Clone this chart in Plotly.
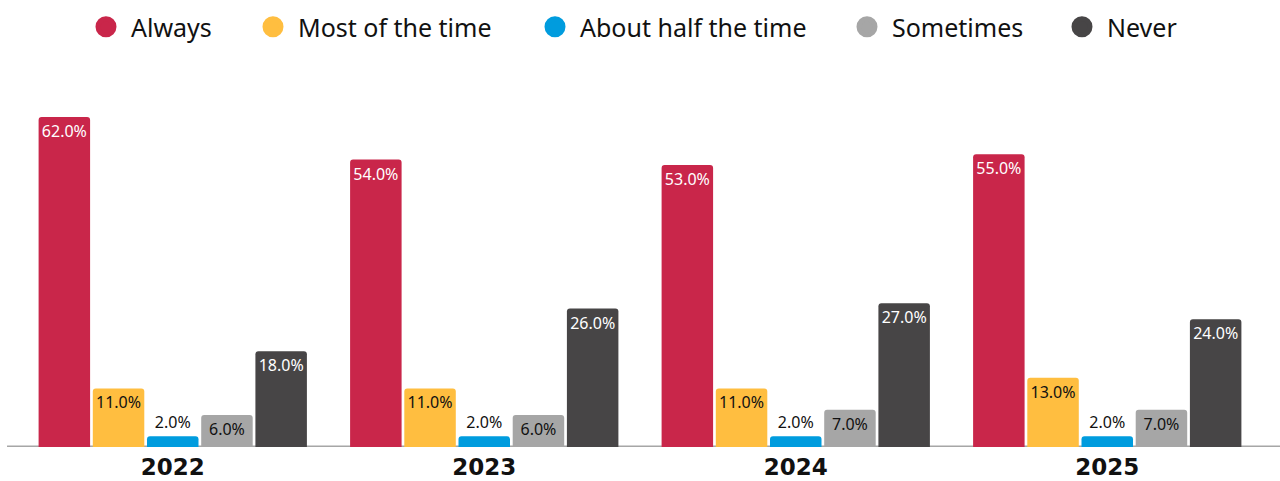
import plotly.graph_objects as go

years = ["2022", "2023", "2024", "2025"]
series = ["Always", "Most of the time", "About half the time", "Sometimes", "Never"]
always = [62.0, 54.0, 53.0, 55.0]
most_of_the_time = [11.0, 11.0, 11.0, 13.0]
about_half = [2.0, 2.0, 2.0, 2.0]
sometimes = [6.0, 6.0, 7.0, 7.0]
never = [18.0, 26.0, 27.0, 24.0]

values = [always, most_of_the_time, about_half, sometimes, never]
colors = ["#C9264A", "#FFBE40", "#009CDE", "#A6A6A6", "#474546"]
inside_text_colors = ["#FFFFFF", "#111111", "#111111", "#111111", "#FFFFFF"]

LABEL_FONT = "Noto Sans"

fig = go.Figure()

for name, vals, col, tcol in zip(series, values, colors, inside_text_colors):
    positions = ["inside" if v >= 5 else "outside" for v in vals]
    fig.add_trace(go.Bar(
        x=years,
        y=vals,
        name=name,
        marker=dict(color=col, cornerradius=3, line=dict(width=0)),
        text=[f"{v:.1f}%" for v in vals],
        textposition=positions,
        insidetextanchor="end",
        constraintext="none",
        insidetextfont=dict(family=LABEL_FONT, size=16, color=tcol),
        outsidetextfont=dict(family=LABEL_FONT, size=16, color="#111111"),
        textangle=0,
        cliponaxis=False,
        showlegend=False,
        hoverinfo="skip",
    ))

# legend entries: one circle marker per series, each in its own legend box
legend_x = [0.05136, 0.18539, 0.41172, 0.66212, 0.83467]
legend_layouts = {}
for i, (name, col, lx) in enumerate(zip(series, colors, legend_x)):
    key = "legend" if i == 0 else f"legend{i + 1}"
    fig.add_trace(go.Scatter(
        x=[None], y=[None],
        mode="markers",
        name=name,
        marker=dict(symbol="circle", size=16, color=col, line=dict(color=col, width=5)),
        legend=key,
        showlegend=True,
        hoverinfo="skip",
    ))
    legend_layouts[key] = dict(
        x=lx, xanchor="left", xref="paper",
        y=1 - 27 / 481, yanchor="middle", yref="container",
        orientation="h",
        bgcolor="rgba(0,0,0,0)",
        borderwidth=0,
        itemsizing="trace",
        itemwidth=40,
        font=dict(family="Noto Sans", size=25, color="#111111"),
    )

fig.update_layout(
    width=1280, height=481,
    margin=dict(l=17, r=17, t=101, b=34, pad=0, autoexpand=False),
    paper_bgcolor="#FFFFFF",
    plot_bgcolor="#FFFFFF",
    barmode="group",
    bargap=0.13,
    bargroupgap=0.05,
    xaxis=dict(
        type="category",
        automargin=False,
        showgrid=False,
        showline=False,
        zeroline=False,
        ticks="",
        ticklabelstandoff=4,
        tickfont=dict(family="DejaVu Sans", size=23, color="#111111", weight="bold"),
    ),
    yaxis=dict(visible=False, range=[0, 65], automargin=False),
    shapes=[dict(
        type="line", xref="paper", yref="y",
        x0=-0.008, x1=1.02, y0=0, y1=0,
        line=dict(color="#A6A6A6", width=3),
        layer="below",
    )],
    **legend_layouts,
)

fig.write_html("out.html")
